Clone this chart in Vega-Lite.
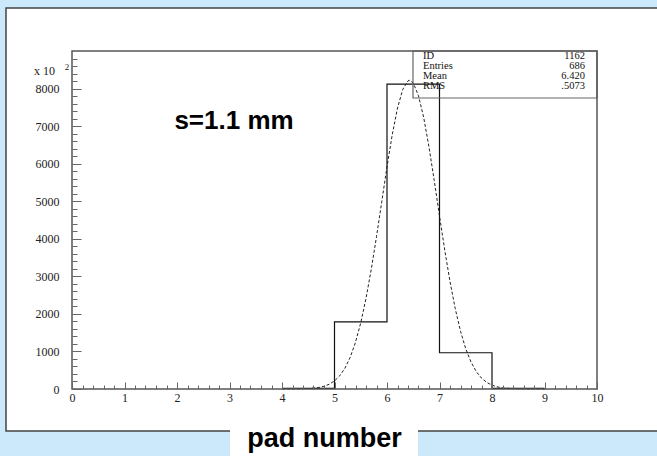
{
  "$schema": "https://vega.github.io/schema/vega-lite/v6.json",
  "width": 525,
  "height": 338,
  "autosize": {"type": "none"},
  "padding": {"left": 72, "top": 51, "right": 60, "bottom": 67},
  "background": "#cce8fb",
  "config": {"view": {"stroke": null, "fill": null}},
  "resolve": {"axis": {"x": "independent", "y": "independent"}},
  "data": {"values": [{}]},
  "layer": [
    {"mark": {"type": "rect", "fill": "white", "stroke": "#444", "strokeWidth": 1.5, "clip": false},
     "encoding": {"x": {"datum": -1.257, "type": "quantitative", "scale": {"domain": [0, 10], "nice": false, "zero": false}, "axis": null},
                  "x2": {"datum": 11.5},
                  "y": {"datum": 10145, "type": "quantitative", "scale": {"domain": [0, 9000], "nice": false, "zero": false}, "axis": null},
                  "y2": {"datum": -1118}}},
    {"mark": {"type": "rect", "fill": "white", "clip": false},
     "encoding": {"x": {"datum": 3.01, "axis": null}, "x2": {"datum": 6.59}, "y": {"datum": -719, "axis": null}, "y2": {"datum": -1890}}},
    {"mark": {"type": "text", "font": "Liberation Sans", "fontWeight": "bold", "fontSize": 27, "align": "center", "baseline": "alphabetic", "color": "#000", "clip": false},
     "encoding": {"x": {"datum": 4.81, "axis": null}, "y": {"datum": -1544, "axis": null}, "text": {"value": "pad number"}}},
    {"data": {"values": [
      {"x": 4.0, "y": 0.2}, {"x": 4.3, "y": 2.6}, {"x": 4.5, "y": 10.8}, {"x": 4.7, "y": 40}, {"x": 4.8, "y": 73},
      {"x": 4.9, "y": 127}, {"x": 5.0, "y": 216}, {"x": 5.1, "y": 353}, {"x": 5.2, "y": 556}, {"x": 5.3, "y": 847},
      {"x": 5.4, "y": 1244}, {"x": 5.5, "y": 1763}, {"x": 5.6, "y": 2412}, {"x": 5.7, "y": 3184}, {"x": 5.8, "y": 4056},
      {"x": 5.9, "y": 4986}, {"x": 6.0, "y": 5915}, {"x": 6.1, "y": 6772}, {"x": 6.2, "y": 7481}, {"x": 6.3, "y": 7977},
      {"x": 6.4, "y": 8207}, {"x": 6.43, "y": 8220}, {"x": 6.5, "y": 8148}, {"x": 6.6, "y": 7808}, {"x": 6.7, "y": 7220},
      {"x": 6.8, "y": 6442}, {"x": 6.9, "y": 5548}, {"x": 7.0, "y": 4610}, {"x": 7.1, "y": 3697}, {"x": 7.2, "y": 2861},
      {"x": 7.3, "y": 2137}, {"x": 7.4, "y": 1540}, {"x": 7.5, "y": 1071}, {"x": 7.6, "y": 719}, {"x": 7.7, "y": 466},
      {"x": 7.8, "y": 291}, {"x": 7.9, "y": 176}, {"x": 8.0, "y": 102}, {"x": 8.1, "y": 57}, {"x": 8.2, "y": 31},
      {"x": 8.4, "y": 8.2}, {"x": 8.6, "y": 1.9}, {"x": 8.9, "y": 0.2}, {"x": 9.0, "y": 0.1}
     ]},
     "mark": {"type": "line", "color": "#222", "strokeWidth": 1, "strokeDash": [3, 2]},
     "encoding": {"x": {"field": "x", "type": "quantitative", "axis": null}, "y": {"field": "y", "type": "quantitative", "axis": null}}},
    {"data": {"values": [
      {"x": 4, "y": 15}, {"x": 5, "y": 1790}, {"x": 6, "y": 8120},
      {"x": 7, "y": 965}, {"x": 8, "y": 15}, {"x": 9, "y": 15}
     ]},
     "mark": {"type": "line", "interpolate": "step-after", "color": "#111", "strokeWidth": 1.2},
     "encoding": {
       "x": {"field": "x", "type": "quantitative",
         "axis": {"title": null, "orient": "bottom", "zindex": 1, "values": [0,1,2,3,4,5,6,7,8,9,10], "format": "d",
           "labelOverlap": false, "labelBound": false, "labelFlush": false,
           "tickSize": -7, "labelPadding": 10, "domain": false, "tickColor": "#666", "tickWidth": 1,
           "labelFont": "Liberation Serif", "labelFontSize": 12, "labelColor": "#222", "grid": false}},
       "y": {"field": "y", "type": "quantitative",
         "axis": {"title": null, "orient": "left", "zindex": 1, "values": [0,1000,2000,3000,4000,5000,6000,7000,8000], "format": "d",
           "labelOverlap": false, "labelBound": false, "labelFlush": false,
           "tickSize": -9, "labelPadding": 22, "domain": false, "tickColor": "#666", "tickWidth": 1,
           "labelFont": "Liberation Serif", "labelFontSize": 12, "labelColor": "#222", "grid": false}}}},
    {"mark": {"type": "rect", "fill": null, "stroke": "#666", "strokeWidth": 1.2},
     "encoding": {"x": {"datum": 6.495, "axis": null}, "x2": {"datum": 10}, "y": {"datum": 7748, "axis": null}, "y2": {"datum": 9000}}},
    {"data": {"values": [
      {"stat": "ID", "val": "1162"}, {"stat": "Entries", "val": "686"},
      {"stat": "Mean", "val": "6.420"}, {"stat": "RMS", "val": ".5073"}
     ]},
     "encoding": {
       "y": {"datum": 8870, "axis": null},
       "yOffset": {"field": "stat", "type": "nominal", "scale": {"type": "point", "domain": ["ID", "Entries", "Mean", "RMS"], "range": [0, 30], "padding": 0}}
     },
     "layer": [
       {"mark": {"type": "text", "font": "Liberation Serif", "fontSize": 10.5, "align": "left", "baseline": "middle", "color": "#111"},
        "encoding": {"x": {"datum": 6.686, "axis": null}, "text": {"field": "stat", "type": "nominal"}}},
       {"mark": {"type": "text", "font": "Liberation Serif", "fontSize": 10.5, "align": "right", "baseline": "middle", "color": "#111"},
        "encoding": {"x": {"datum": 9.771, "axis": null}, "text": {"field": "val", "type": "nominal"}}}
     ]},
    {"mark": {"type": "text", "font": "Liberation Sans", "fontWeight": "bold", "fontSize": 26, "align": "center", "baseline": "alphabetic", "color": "#000"},
     "encoding": {"x": {"datum": 3.086, "axis": null}, "y": {"datum": 6923, "axis": null}, "text": {"value": "s=1.1 mm"}}},
    {"mark": {"type": "text", "font": "Liberation Serif", "fontSize": 12, "align": "left", "baseline": "middle", "color": "#222", "clip": false},
     "encoding": {"x": {"datum": -0.724, "axis": null}, "y": {"datum": 8470, "axis": null}, "text": {"value": "x 10"}}},
    {"mark": {"type": "text", "font": "Liberation Serif", "fontSize": 9, "align": "left", "baseline": "middle", "color": "#222", "clip": false},
     "encoding": {"x": {"datum": -0.14, "axis": null}, "y": {"datum": 8580, "axis": null}, "text": {"value": "2"}}},
    {"mark": {"type": "rect", "fill": null, "stroke": "#555", "strokeWidth": 1.5},
     "encoding": {
       "x": {"datum": 0, "type": "quantitative",
         "axis": {"title": null, "orient": "bottom", "zindex": 1, "values": [0.2,0.4,0.6,0.8,1.2,1.4,1.6,1.8,2.2,2.4,2.6,2.8,3.2,3.4,3.6,3.8,4.2,4.4,4.6,4.8,5.2,5.4,5.6,5.8,6.2,6.4,6.6,6.8,7.2,7.4,7.6,7.8,8.2,8.4,8.6,8.8,9.2,9.4,9.6,9.8],
           "labels": false, "tickSize": -4, "domain": false, "tickColor": "#666", "tickWidth": 1, "grid": false}},
       "x2": {"datum": 10},
       "y": {"datum": 0, "type": "quantitative",
         "axis": {"title": null, "orient": "left", "zindex": 1, "values": [200,400,600,800,1200,1400,1600,1800,2200,2400,2600,2800,3200,3400,3600,3800,4200,4400,4600,4800,5200,5400,5600,5800,6200,6400,6600,6800,7200,7400,7600,7800,8200,8400,8600,8800],
           "labels": false, "tickSize": -5, "domain": false, "tickColor": "#666", "tickWidth": 1, "grid": false}},
       "y2": {"datum": 9000}}}
  ]
}
